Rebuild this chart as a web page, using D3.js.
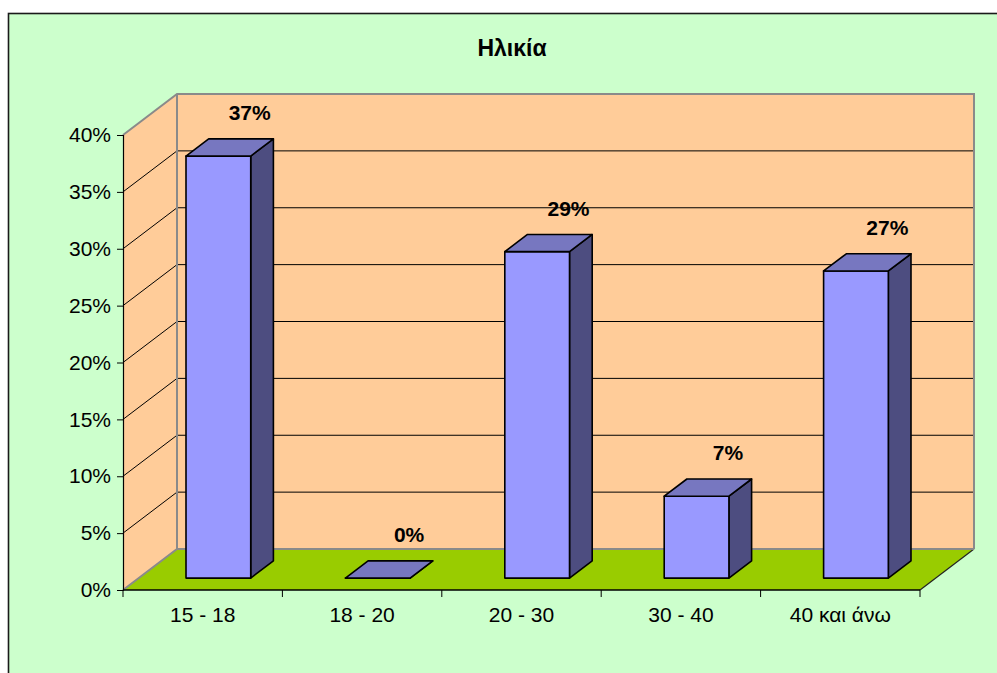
<!DOCTYPE html>
<html>
<head>
<meta charset="utf-8">
<script src="https://cdn.jsdelivr.net/npm/d3@7"></script>
<style>
  html, body { margin: 0; padding: 0; background: #ffffff; }
  svg { display: block; }
  text { font-family: "Liberation Sans", Arial, sans-serif; }
</style>
</head>
<body>
<script>
// Age groups and their share of respondents
const categories = ["15 - 18", "18 - 20", "20 - 30", "30 - 40", "40 και άνω"];
const shares = [0.371, 0, 0.287, 0.072, 0.270];
const yTicks = [0, 0.05, 0.10, 0.15, 0.20, 0.25, 0.30, 0.35, 0.40];
const title = "Ηλικία";

const W = 997, H = 673;
const svg = d3.select("body").append("svg").attr("width", W).attr("height", H);

// chart area background + frame
svg.append("rect").attr("x", 8.5).attr("y", 13.5).attr("width", 1100).attr("height", 800)
  .attr("fill", "#CCFFCC").attr("stroke", "#1a1a1a").attr("stroke-width", 1.6);

// plot geometry (front plane) and depth vector of the 3D floor
const pLeft = 123, pRight = 920, pBottom = 590, pTop = 135;
const depth = { x: 54, y: -41 };
const f0 = 0.29, f1 = 0.71;   // front / back depth of the columns

const y = d3.scaleLinear().domain([0, 0.40]).range([pBottom, pTop]);
const xCat = d3.scaleBand().domain(categories).range([pLeft, pRight]).padding(0);
const xBar = d3.scaleBand().domain(categories).range([pLeft, pRight])
  .paddingInner(0.594).paddingOuter(0.297);

const pt = (x, yy, f) => [x + depth.x * f, yy + depth.y * f];
const poly = pts => "M" + pts.map(p => p.join(",")).join("L") + "Z";

// side wall (left) and back wall
svg.append("path")
  .attr("d", poly([pt(pLeft, y(0), 0), pt(pLeft, y(0.4), 0), pt(pLeft, y(0.4), 1), pt(pLeft, y(0), 1)]))
  .attr("fill", "#FFCC99");
svg.append("path")
  .attr("d", poly([pt(pLeft, y(0), 1), pt(pLeft, y(0.4), 1), pt(pRight, y(0.4), 1), pt(pRight, y(0), 1)]))
  .attr("fill", "#FFCC99");

// gridlines on both walls
const grid = yTicks.filter(v => v > 0 && v < 0.4);
svg.append("g").selectAll("path").data(grid).join("path")
  .attr("d", v => {
    const a = pt(pLeft, y(v), 0), b = pt(pLeft, y(v), 1), c = pt(pRight, y(v), 1);
    return "M" + a + "L" + b + "L" + c;
  })
  .attr("fill", "none").attr("stroke", "#000").attr("stroke-width", 1);

// floor
svg.append("path")
  .attr("d", poly([pt(pLeft, y(0), 0), pt(pRight, y(0), 0), pt(pRight, y(0), 1), pt(pLeft, y(0), 1)]))
  .attr("fill", "#99CC00");
svg.append("path")
  .attr("d", "M" + pt(pRight, y(0), 0) + "L" + pt(pRight, y(0), 1))
  .attr("stroke", "#222").attr("stroke-width", 1.2).attr("fill", "none");

// wall outline
svg.append("path")
  .attr("d", "M" + pt(pLeft, y(0), 0) + "L" + pt(pLeft, y(0), 1) + "L" + pt(pRight, y(0), 1)
    + "M" + pt(pLeft, y(0.4), 0) + "L" + pt(pLeft, y(0.4), 1) + "L" + pt(pRight, y(0.4), 1) + "L" + pt(pRight, y(0), 1)
    + "M" + pt(pLeft, y(0.4), 1) + "L" + pt(pLeft, y(0), 1))
  .attr("fill", "none").attr("stroke", "#8a8a8a").attr("stroke-width", 2);

// columns
const bars = svg.append("g").selectAll("g").data(categories).join("g");
bars.each(function (c, i) {
  const g = d3.select(this);
  const x0 = xBar(c), x1 = xBar(c) + xBar.bandwidth();
  const v = shares[i];
  const yb = y(0), yt = y(v);
  const faces = [
    { d: poly([pt(x1, yb, f0), pt(x1, yb, f1), pt(x1, yt, f1), pt(x1, yt, f0)]), fill: "#4D4D80" },
    { d: poly([pt(x0, yb, f0), pt(x1, yb, f0), pt(x1, yt, f0), pt(x0, yt, f0)]), fill: "#9999FF" },
    { d: poly([pt(x0, yt, f0), pt(x1, yt, f0), pt(x1, yt, f1), pt(x0, yt, f1)]), fill: "#7777C0" }
  ];
  g.selectAll("path").data(faces).join("path")
    .attr("d", f => f.d).attr("fill", f => f.fill)
    .attr("stroke", "#000").attr("stroke-width", 1.6).attr("stroke-linejoin", "round");
});

// value labels
svg.append("g").selectAll("text").data(categories).join("text")
  .attr("x", c => xCat(c) + xCat.bandwidth() / 2 + 47)
  .attr("y", (c, i) => y(shares[i]) - 48)
  .attr("text-anchor", "middle")
  .attr("font-size", 21).attr("font-weight", "bold").attr("fill", "#000")
  .text((c, i) => d3.format(".0%")(shares[i]));

// value axis
const yAxis = d3.axisLeft(y).tickValues(yTicks).tickFormat(d3.format(".0%"))
  .tickSize(6).tickPadding(6);
const ya = svg.append("g").attr("transform", `translate(${pLeft},0)`).call(yAxis);
ya.select(".domain").attr("stroke", "#000").attr("stroke-width", 1.2);
ya.selectAll(".tick line").attr("stroke", "#000");
ya.selectAll(".tick text").attr("font-size", 21).attr("fill", "#000")
  .attr("font-family", "Liberation Sans, Arial, sans-serif");

// category axis: baseline, boundary ticks, centred labels
svg.append("line").attr("x1", pLeft).attr("x2", pRight).attr("y1", pBottom).attr("y2", pBottom)
  .attr("stroke", "#000").attr("stroke-width", 1.4);
const bounds = categories.map(c => xCat(c)).concat([pRight]);
svg.append("g").selectAll("line").data(bounds).join("line")
  .attr("x1", d => d).attr("x2", d => d).attr("y1", pBottom).attr("y2", pBottom + 7)
  .attr("stroke", "#000");
svg.append("g").selectAll("text").data(categories).join("text")
  .attr("x", c => xCat(c) + xCat.bandwidth() / 2)
  .attr("y", 622)
  .attr("text-anchor", "middle").attr("font-size", 21).attr("fill", "#000")
  .text(c => c);

// title
svg.append("text").attr("x", 512).attr("y", 56).attr("text-anchor", "middle")
  .attr("font-size", 23).attr("font-weight", "bold").attr("fill", "#000").text(title);
</script>
</body>
</html>
